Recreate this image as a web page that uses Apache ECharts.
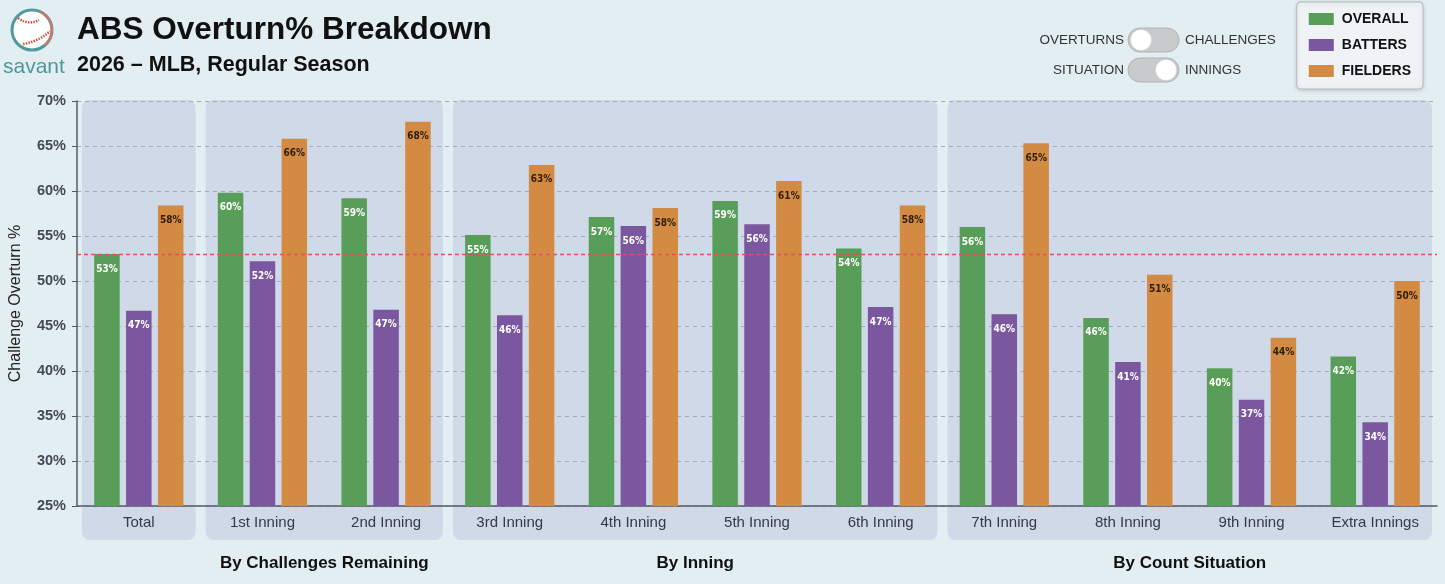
<!DOCTYPE html>
<html>
<head>
<meta charset="utf-8">
<script src="https://cdn.jsdelivr.net/npm/echarts@6/dist/echarts.min.js"></script>
<style>
  html,body{margin:0;padding:0;background:#e3eef2;}
  #chart{width:1445px;height:584px;}
</style>
</head>
<body>
<div id="chart"></div>
<script>
const categories = ['Total','1st Inning','2nd Inning','3rd Inning','4th Inning','5th Inning','6th Inning','7th Inning','8th Inning','9th Inning','Extra Innings'];
const overall  = [53.0, 59.8, 59.2, 55.1, 57.1, 58.9, 53.6, 56.0, 45.9, 40.3, 41.6];
const batters  = [46.7, 52.2, 46.8, 46.2, 56.1, 56.3, 47.1, 46.3, 41.0, 36.8, 34.3];
const fielders = [58.4, 65.8, 67.7, 62.9, 58.1, 61.1, 58.4, 65.3, 50.7, 43.7, 50.0];
const seriesNames = ['OVERALL','BATTERS','FIELDERS'];
const groupNames = ['', 'By Challenges Remaining', 'By Inning', 'By Count Situation'];
const groupRanges = [[0,0],[1,2],[3,6],[7,10]];
const yMin = 25, yMax = 70, yStep = 5;
const referenceLine = overall[0];

const colors = ['#589e58', '#7a579e', '#d38a42'];
const FONT = 'Liberation Sans, Arial, sans-serif';
const NARROW = '"Liberation Sans Narrow", "Arial Narrow", "DejaVu Sans Condensed", sans-serif';

const chart = echarts.init(document.getElementById('chart'), null, {renderer:'canvas'});

function barLabel(color){
  return {
    show:true, position:'insideTop', distance:10,
    formatter: p => Math.round(p.value) + '%',
    color: color, fontSize:10, fontWeight:'bold', fontFamily: NARROW
  };
}

const option = {
  backgroundColor:'#e3eef2',
  animation:false,
  textStyle:{fontFamily:FONT},
  title:{
    text:'ABS Overturn% Breakdown',
    subtext:'2026 – MLB, Regular Season',
    left:72, top:9, itemGap:8,
    textStyle:{fontSize:31.5, fontWeight:'bold', color:'#111', fontFamily:FONT},
    subtextStyle:{fontSize:21.5, fontWeight:'bold', color:'#111', fontFamily:FONT}
  },
  legend:{
    data:seriesNames, orient:'vertical', right:22, top:2,
    icon:'rect', itemWidth:25, itemHeight:12, itemGap:12,
    padding:[10,12,11,12],
    backgroundColor:'#eff3f5', borderColor:'#b8b8b8', borderWidth:1, borderRadius:4,
    shadowBlur:4, shadowColor:'rgba(0,0,0,0.15)', shadowOffsetY:1,
    textStyle:{fontSize:14, fontWeight:'bold', color:'#111', fontFamily:FONT, padding:[0,0,0,3]},
    selectedMode:false
  },
  grid:{left:77, right:8, top:101, bottom:78, containLabel:false},
  xAxis:{
    type:'category', data:categories,
    axisLine:{lineStyle:{color:'#555b66', width:1.5}},
    axisTick:{alignWithLabel:true, length:5, lineStyle:{color:'#555b66'}},
    axisLabel:{fontSize:15, color:'#353a44', margin:9, fontFamily:FONT}
  },
  yAxis:{
    type:'value', min:yMin, max:yMax, interval:yStep,
    name:'Challenge Overturn %', nameLocation:'middle', nameGap:53,
    nameTextStyle:{fontSize:16, color:'#222', fontFamily:FONT},
    axisLine:{show:true, lineStyle:{color:'#555b66', width:1.5}},
    axisTick:{show:true, length:5, lineStyle:{color:'#555b66'}},
    axisLabel:{formatter:'{value}%', fontSize:14.5, fontWeight:'bold', color:'#444a55', margin:11, fontFamily:FONT},
    splitLine:{show:true, lineStyle:{color:'#a4a8b8', type:[4,4], width:1}}
  },
  series:[
    {name:seriesNames[0], type:'bar', data:overall, barWidth:25.5, barGap:'25%',
     itemStyle:{color:colors[0]}, label:barLabel('#ffffff'),
     markLine:{silent:true, symbol:'none', label:{show:false},
       lineStyle:{color:'#e2505e', type:[4,3], width:1.3},
       data:[{yAxis:referenceLine}]}},
    {name:seriesNames[1], type:'bar', data:batters, barWidth:25.5, barGap:'25%',
     itemStyle:{color:colors[1]}, label:barLabel('#ffffff')},
    {name:seriesNames[2], type:'bar', data:fielders, barWidth:25.5, barGap:'25%',
     itemStyle:{color:colors[2]}, label:barLabel('#2e1d08')}
  ]
};
chart.setOption(option);

// Build graphics from the axis scales
const c0 = chart.convertToPixel({xAxisIndex:0}, 0);
const c1 = chart.convertToPixel({xAxisIndex:0}, 1);
const bw = c1 - c0;
const yTop = chart.convertToPixel({yAxisIndex:0}, yMax) - 1;
const yAxisPix = chart.convertToPixel({yAxisIndex:0}, yMin);
const panelBottom = yAxisPix + 34;
const graphics = [];
groupRanges.forEach((r, i) => {
  const x0 = chart.convertToPixel({xAxisIndex:0}, r[0]) - bw/2 + 5;
  const x1 = chart.convertToPixel({xAxisIndex:0}, r[1]) + bw/2 - 5;
  graphics.push({type:'rect', z:-10, silent:true,
    shape:{x:x0, y:yTop, width:x1-x0, height:panelBottom-yTop, r:8},
    style:{fill:'#cfd9e8'}});
  if (groupNames[i]) {
    graphics.push({type:'text', silent:true, x:(x0+x1)/2, y:yAxisPix+57,
      style:{text:groupNames[i], fill:'#111', font:'bold 17px ' + FONT, align:'center', verticalAlign:'middle'}});
  }
});

// Logo
graphics.push({type:'circle', silent:true, shape:{cx:32, cy:30, r:20},
  style:{fill:'#ffffff', stroke:'#4f9aa0', lineWidth:3}});
graphics.push({type:'arc', silent:true, shape:{cx:32, cy:30, r:20, startAngle:-1.2, endAngle:0.9},
  style:{stroke:'#e07060', lineWidth:2, fill:null}});
graphics.push({type:'bezierCurve', silent:true,
  shape:{x1:18, y1:18, x2:39, y2:20, cpx1:26, cpy1:24, cpx2:34, cpy2:23},
  style:{stroke:'#d9503f', lineWidth:2.5, lineDash:[1.5,1.2], fill:null}});
graphics.push({type:'bezierCurve', silent:true,
  shape:{x1:23, y1:44, x2:50, y2:31, cpx1:36, cpy1:42, cpx2:45, cpy2:36},
  style:{stroke:'#d9503f', lineWidth:2.5, lineDash:[1.5,1.2], fill:null}});
graphics.push({type:'text', silent:true, x:3, y:67,
  style:{text:'savant', fill:'#4a989c', font:'21px ' + FONT, verticalAlign:'middle'}});

// Toggles
function toggle(y, leftText, rightText, knobRight){
  graphics.push({type:'text', silent:true, x:1124, y:y,
    style:{text:leftText, fill:'#333', font:'13.5px ' + FONT, align:'right', verticalAlign:'middle'}});
  graphics.push({type:'rect', silent:true, shape:{x:1128, y:y-12, width:51, height:24, r:12},
    style:{fill:'#c9cacc', stroke:'#b0b1b4', lineWidth:1}});
  graphics.push({type:'circle', silent:true, shape:{cx: knobRight ? 1166 : 1141, cy:y, r:10.5},
    style:{fill:'#ffffff', stroke:'#d0d0d0', lineWidth:0.5}});
  graphics.push({type:'text', silent:true, x:1185, y:y,
    style:{text:rightText, fill:'#333', font:'13.5px ' + FONT, align:'left', verticalAlign:'middle'}});
}
toggle(40, 'OVERTURNS', 'CHALLENGES', false);
toggle(70, 'SITUATION', 'INNINGS', true);

chart.setOption({graphic:{elements:graphics}});
</script>
</body>
</html>
